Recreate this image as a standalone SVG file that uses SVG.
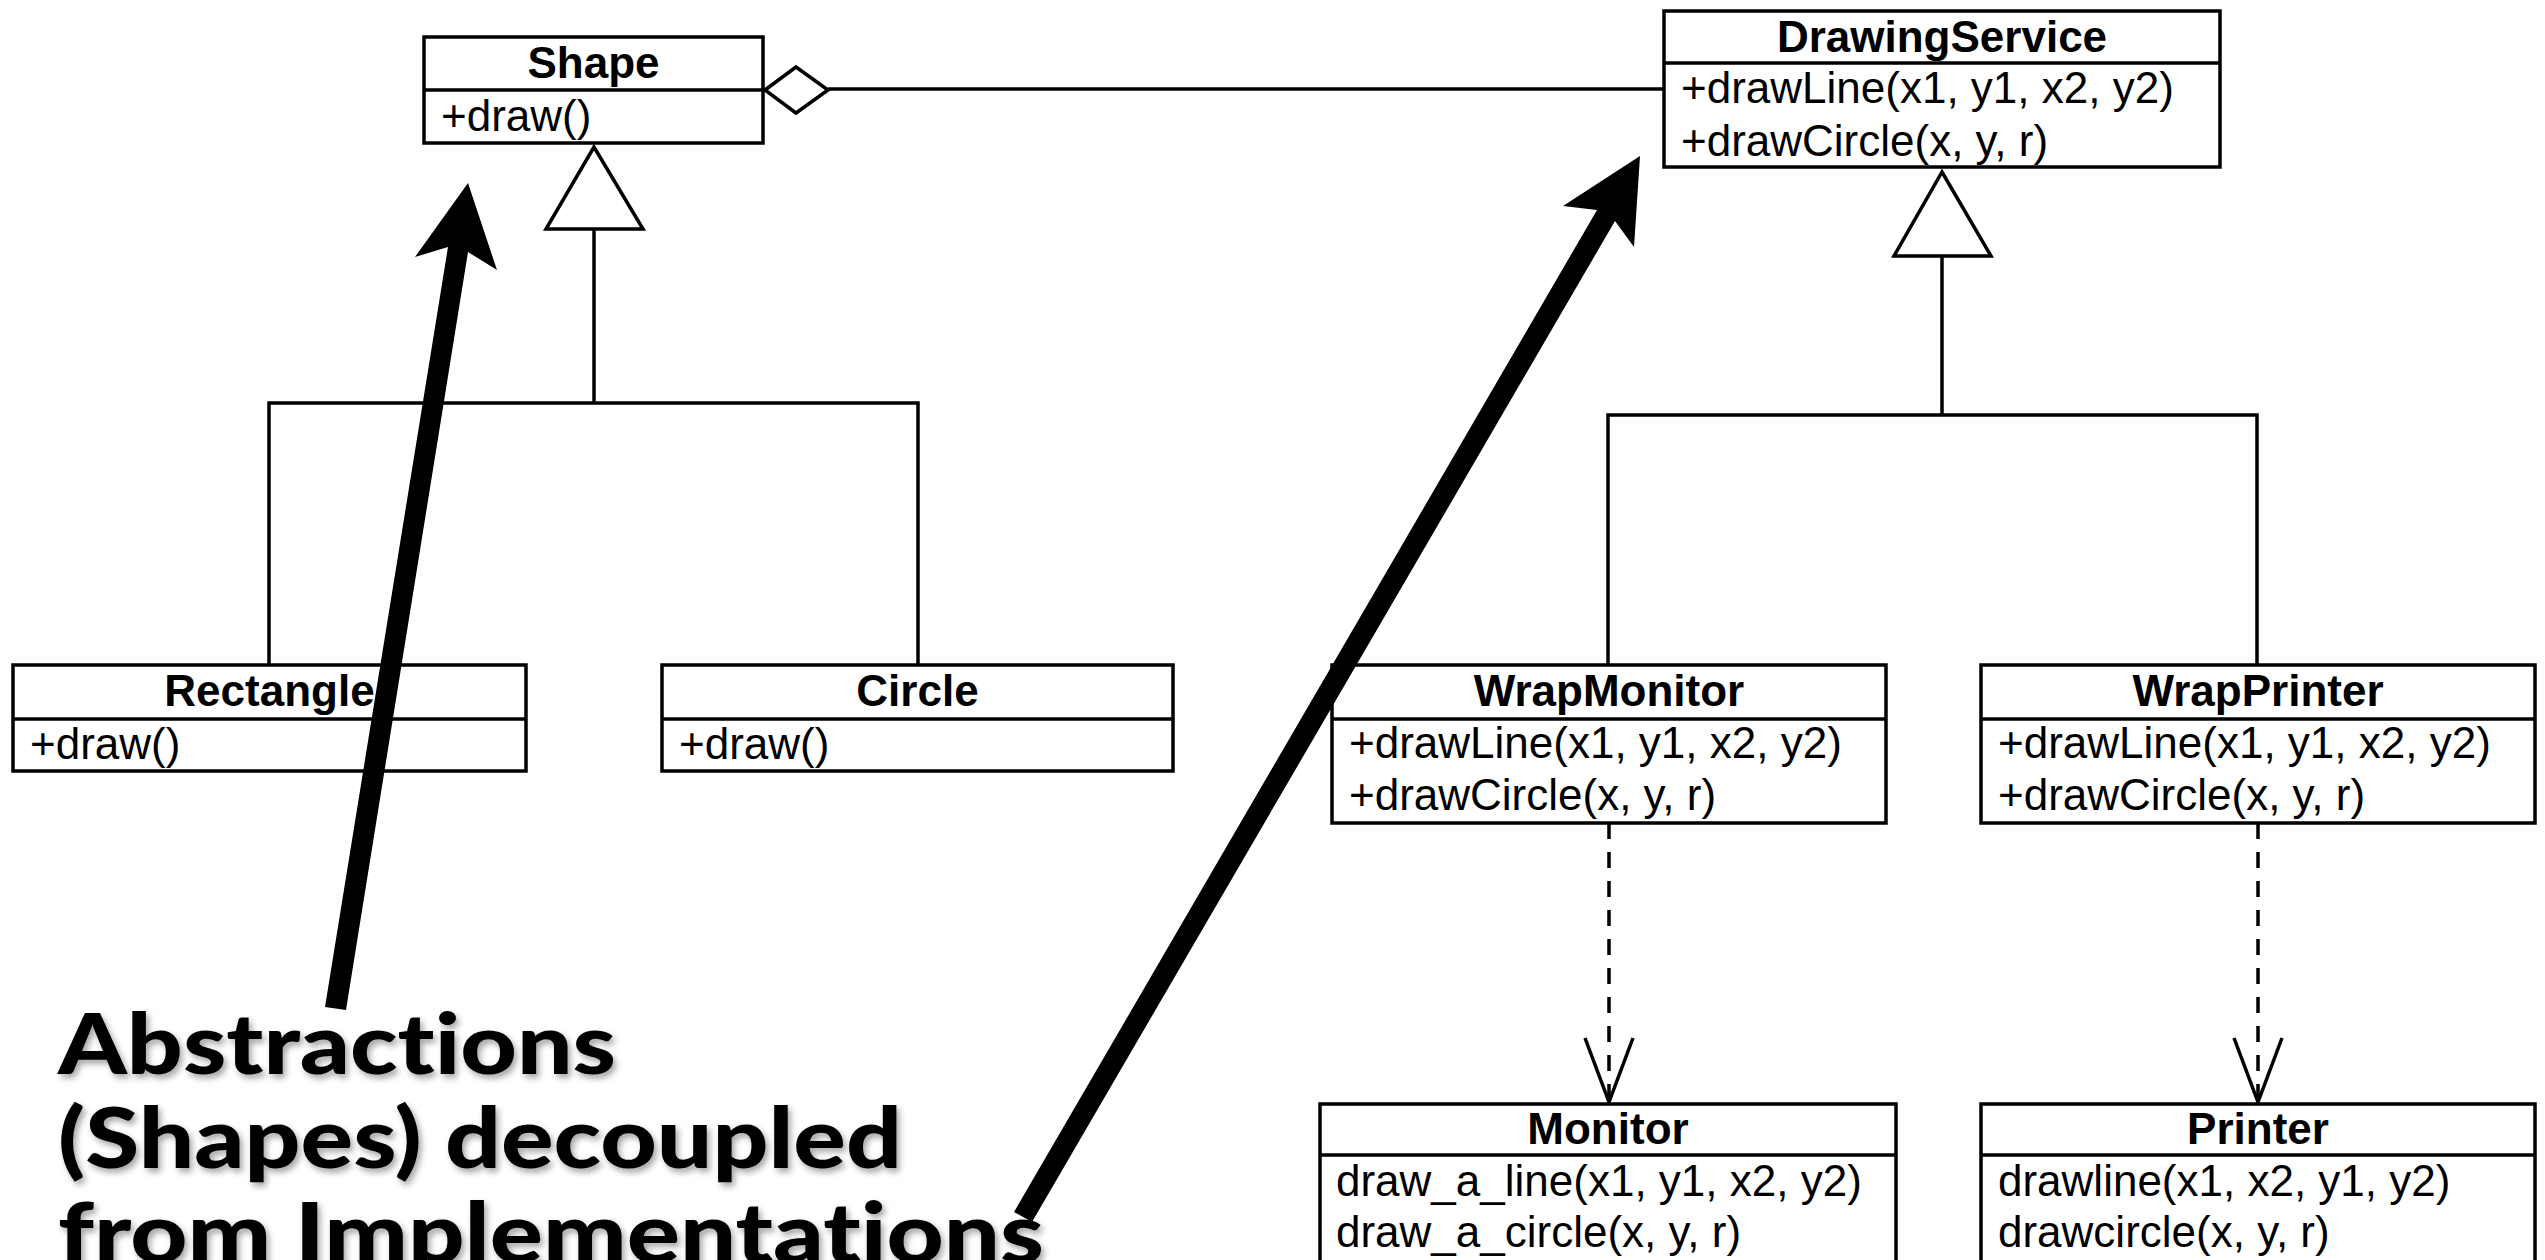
<svg xmlns="http://www.w3.org/2000/svg" width="2545" height="1260" viewBox="0 0 2545 1260">
<defs>
<style>
.box{fill:#fff;stroke:#000;stroke-width:3.5}
.div{stroke:#000;stroke-width:3.5}
.ln{fill:none;stroke:#000;stroke-width:3.5}
.dash{fill:none;stroke:#000;stroke-width:3.5;stroke-dasharray:16 13}
.open{fill:#fff;stroke:#000;stroke-width:3.5}
.t{font-family:"Liberation Sans",Arial,Helvetica,sans-serif;font-size:44px;fill:#000}
.tb{font-family:"Liberation Sans",Arial,Helvetica,sans-serif;font-size:44px;font-weight:bold;fill:#000;text-anchor:middle}
.big{font-family:Lato,"Open Sans","Liberation Sans",sans-serif;font-size:84px;font-weight:900;fill:#000;font-variant-ligatures:none;font-feature-settings:"liga" 0,"dlig" 0}
.arr{fill:#000;stroke:none}
</style>
<filter id="sh" x="-5%" y="-20%" width="110%" height="150%">
<feDropShadow dx="3" dy="4" stdDeviation="3" flood-color="#000" flood-opacity="0.35"/>
</filter>
</defs>
<rect width="2545" height="1260" fill="#fff"/>

<g id="connectors">
<line class="ln" x1="828" y1="89" x2="1664" y2="89"/>
<polygon class="open" points="765,90 796,67 828,90 796,113"/>
<polyline class="ln" points="594,229 594,403"/>
<polyline class="ln" points="269,665 269,403 918,403 918,665"/>
<polygon class="open" points="594,147 643,229 546,229"/>
<polyline class="ln" points="1942,256 1942,415"/>
<polyline class="ln" points="1608,665 1608,415 2257,415 2257,665"/>
<polygon class="open" points="1942,172 1991,256 1894,256"/>
<line class="dash" x1="1609" y1="823" x2="1609" y2="1100"/>
<polyline class="ln" points="1585,1038 1609,1102 1633,1038"/>
<line class="dash" x1="2258" y1="823" x2="2258" y2="1100"/>
<polyline class="ln" points="2234,1038 2258,1102 2282,1038"/>
</g>

<g id="shape">
<rect class="box" x="424" y="37" width="339" height="106"/>
<line class="div" x1="424" y1="90" x2="763" y2="90"/>
<text class="tb" x="593.5" y="78">Shape</text>
<text class="t" x="441" y="131">+draw()</text>
</g>

<g id="drawingservice">
<rect class="box" x="1664" y="11" width="556" height="156"/>
<line class="div" x1="1664" y1="63" x2="2220" y2="63"/>
<text class="tb" x="1942" y="52">DrawingService</text>
<text class="t" x="1681" y="103">+drawLine(x1, y1, x2, y2)</text>
<text class="t" x="1681" y="156">+drawCircle(x, y, r)</text>
</g>

<g id="rectangle">
<rect class="box" x="13" y="665" width="513" height="106"/>
<line class="div" x1="13" y1="719" x2="526" y2="719"/>
<text class="tb" x="269.5" y="706">Rectangle</text>
<text class="t" x="30" y="759">+draw()</text>
</g>

<g id="circle">
<rect class="box" x="662" y="665" width="511" height="106"/>
<line class="div" x1="662" y1="719" x2="1173" y2="719"/>
<text class="tb" x="917.5" y="706">Circle</text>
<text class="t" x="679" y="759">+draw()</text>
</g>

<g id="wrapmonitor">
<rect class="box" x="1332" y="665" width="554" height="158"/>
<line class="div" x1="1332" y1="719" x2="1886" y2="719"/>
<text class="tb" x="1609" y="706">WrapMonitor</text>
<text class="t" x="1349" y="758">+drawLine(x1, y1, x2, y2)</text>
<text class="t" x="1349" y="810">+drawCircle(x, y, r)</text>
</g>

<g id="wrapprinter">
<rect class="box" x="1981" y="665" width="554" height="158"/>
<line class="div" x1="1981" y1="719" x2="2535" y2="719"/>
<text class="tb" x="2258" y="706">WrapPrinter</text>
<text class="t" x="1998" y="758">+drawLine(x1, y1, x2, y2)</text>
<text class="t" x="1998" y="810">+drawCircle(x, y, r)</text>
</g>

<g id="monitor">
<rect class="box" x="1320" y="1104" width="576" height="170"/>
<line class="div" x1="1320" y1="1155" x2="1896" y2="1155"/>
<text class="tb" x="1608" y="1144">Monitor</text>
<text class="t" x="1336" y="1196">draw_a_line(x1, y1, x2, y2)</text>
<text class="t" x="1336" y="1247">draw_a_circle(x, y, r)</text>
</g>

<g id="printer">
<rect class="box" x="1981" y="1104" width="554" height="170"/>
<line class="div" x1="1981" y1="1155" x2="2535" y2="1155"/>
<text class="tb" x="2258" y="1144">Printer</text>
<text class="t" x="1998" y="1196">drawline(x1, x2, y1, y2)</text>
<text class="t" x="1998" y="1247">drawcircle(x, y, r)</text>
</g>

<g id="annotation" filter="url(#sh)">
<text class="big" x="58" y="1074" textLength="558" lengthAdjust="spacingAndGlyphs">Abstractions</text>
<text class="big" x="58" y="1168" textLength="844" lengthAdjust="spacingAndGlyphs">(Shapes) decoupled</text>
<text class="big" x="58" y="1263" textLength="986" lengthAdjust="spacingAndGlyphs">from Implementations</text>
</g>

<g id="pointers">
<polygon class="arr" points="325,1007 448,247 415,257 468,183 497,270 468,252 346,1010"/>
<polygon class="arr" points="1014,1212 1597,210 1563,206 1640,156 1634,247 1615,221 1032,1222"/>
</g>
</svg>
